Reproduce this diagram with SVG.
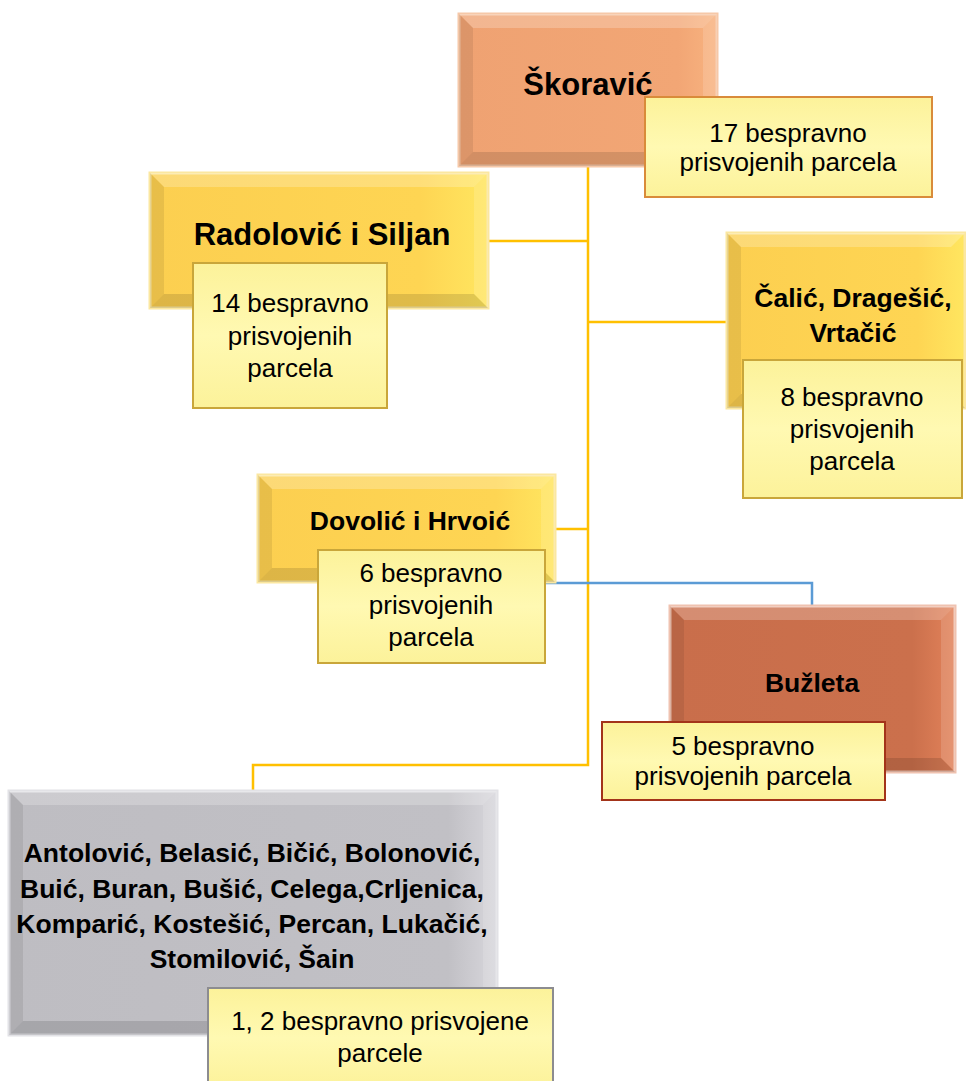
<svg xmlns="http://www.w3.org/2000/svg" width="966" height="1081" viewBox="0 0 966 1081">
<defs>
<style>
.t{font-family:"Liberation Sans",Arial,sans-serif;fill:#000;text-anchor:middle}
.b{font-weight:bold}
.r{font-size:26px}
.lab{fill:url(#gLab);stroke-width:2}
.hi{fill:#fff;opacity:.22}
.hi2{fill:#fff;opacity:.14}
.sh{fill:#000;opacity:.08}
.sh2{fill:#000;opacity:.12}
.cy{fill:none;stroke:#FFC000;stroke-width:2.5}
.cb{fill:none;stroke:#5B9BD5;stroke-width:2.5}
</style>
<linearGradient id="gLab" x1="0" y1="0" x2="0" y2="1">
<stop offset="0" stop-color="#FCF29A"/>
<stop offset="0.5" stop-color="#FFF9B2"/>
<stop offset="1" stop-color="#FCF29A"/>
</linearGradient>
<linearGradient id="gGold" x1="0" y1="0" x2="1" y2="0">
<stop offset="0" stop-color="#FCCF50"/>
<stop offset="0.8" stop-color="#FED553"/>
<stop offset="1" stop-color="#FFE660"/>
</linearGradient>
<linearGradient id="gOr" x1="0" y1="0" x2="1" y2="0">
<stop offset="0" stop-color="#EFA272"/>
<stop offset="0.85" stop-color="#F2A675"/>
<stop offset="1" stop-color="#F8B380"/>
</linearGradient>
<linearGradient id="gRed" x1="0" y1="0" x2="1" y2="0">
<stop offset="0" stop-color="#C96E4B"/>
<stop offset="0.85" stop-color="#CB704C"/>
<stop offset="1" stop-color="#E2825A"/>
</linearGradient>
<linearGradient id="gGrey" x1="0" y1="0" x2="1" y2="0">
<stop offset="0" stop-color="#BEBDC2"/>
<stop offset="0.9" stop-color="#C1C0C5"/>
<stop offset="1" stop-color="#D8D7DC"/>
</linearGradient>
</defs>
<rect width="966" height="1081" fill="#fff"/>

<g id="connectors">
<path class="cy" d="M588,167 V765 H253 V791"/>
<path class="cy" d="M488,241 H588"/>
<path class="cy" d="M588,322 H727"/>
<path class="cy" d="M555,529 H588"/>
<path class="cb" d="M545,583 H812 V606"/>
</g>

<g id="node-skoravic">
<rect x="459" y="14" width="258" height="152" fill="url(#gOr)" stroke="#F6C8A8" stroke-width="3"/>
<polygon class="hi" points="459,14 717,14 703,28 473,28"/>
<polygon class="sh" points="459,14 473,28 473,152 459,166"/>
<polygon class="hi2" points="717,14 717,166 703,152 703,28"/>
<polygon class="sh2" points="459,166 717,166 703,152 473,152"/>
<text class="t b" x="588" y="95" font-size="31">Škoravić</text>
<rect class="lab" x="645" y="97" width="287" height="100" stroke="#D98B3A"/>
<text class="t r" x="788" y="142">17 bespravno</text>
<text class="t r" x="788" y="171">prisvojenih parcela</text>
</g>

<g id="node-radolovic">
<rect x="150" y="173" width="338" height="135" fill="url(#gGold)" stroke="#FBE7A0" stroke-width="3"/>
<polygon class="hi" points="150,173 488,173 474,187 164,187"/>
<polygon class="sh" points="150,173 164,187 164,294 150,308"/>
<polygon class="hi2" points="488,173 488,308 474,294 474,187"/>
<polygon class="sh2" points="150,308 488,308 474,294 164,294"/>
<text class="t b" x="322" y="245" font-size="31">Radolović i Siljan</text>
<rect class="lab" x="193" y="263" width="194" height="145" stroke="#C9A63A"/>
<text class="t r" x="290" y="312">14 bespravno</text>
<text class="t r" x="290" y="345">prisvojenih</text>
<text class="t r" x="290" y="377">parcela</text>
</g>

<g id="node-calic">
<rect x="727" y="233" width="238" height="175" fill="url(#gGold)" stroke="#FBE7A0" stroke-width="3"/>
<polygon class="hi" points="727,233 965,233 951,247 741,247"/>
<polygon class="sh" points="727,233 741,247 741,394 727,408"/>
<polygon class="sh2" points="727,408 965,408 951,394 741,394"/>
<text class="t b" x="853" y="307" font-size="26.5">Čalić, Dragešić,</text>
<text class="t b" x="853" y="342" font-size="26.5">Vrtačić</text>
<rect class="lab" x="743" y="360" width="219" height="138" stroke="#C9A63A"/>
<text class="t r" x="852" y="406">8 bespravno</text>
<text class="t r" x="852" y="438">prisvojenih</text>
<text class="t r" x="852" y="470">parcela</text>
</g>

<g id="node-dovolic">
<rect x="258" y="475" width="297" height="107" fill="url(#gGold)" stroke="#FBE7A0" stroke-width="3"/>
<polygon class="hi" points="258,475 555,475 541,489 272,489"/>
<polygon class="sh" points="258,475 272,489 272,568 258,582"/>
<polygon class="hi2" points="555,475 555,582 541,568 541,489"/>
<polygon class="sh2" points="258,582 555,582 541,568 272,568"/>
<text class="t b" x="410" y="530" font-size="26.5">Dovolić i Hrvoić</text>
<rect class="lab" x="318" y="550" width="227" height="113" stroke="#C9A63A"/>
<text class="t r" x="431" y="582">6 bespravno</text>
<text class="t r" x="431" y="614">prisvojenih</text>
<text class="t r" x="431" y="646">parcela</text>
</g>

<g id="node-buzleta">
<rect x="670" y="606" width="285" height="166" fill="url(#gRed)" stroke="#EFC2B0" stroke-width="3"/>
<polygon class="hi" points="670,606 955,606 941,620 684,620"/>
<polygon class="sh" points="670,606 684,620 684,758 670,772"/>
<polygon class="hi2" points="955,606 955,772 941,758 941,620"/>
<polygon class="sh2" points="670,772 955,772 941,758 684,758"/>
<text class="t b" x="812" y="692" font-size="26.5">Bužleta</text>
<rect class="lab" x="602" y="722" width="283" height="78" stroke="#A3341A"/>
<text class="t r" x="743" y="755">5 bespravno</text>
<text class="t r" x="743" y="785">prisvojenih parcela</text>
</g>

<g id="node-ostali">
<rect x="9" y="791" width="488" height="244" fill="url(#gGrey)" stroke="#E2E2E6" stroke-width="3"/>
<polygon class="hi" points="9,791 497,791 483,805 23,805"/>
<polygon class="sh" points="9,791 23,805 23,1021 9,1035"/>
<polygon class="hi2" points="497,791 497,1035 483,1021 483,805"/>
<polygon class="sh2" points="9,1035 497,1035 483,1021 23,1021"/>
<text class="t b" x="252" y="862" font-size="26.5">Antolović, Belasić, Bičić, Bolonović,</text>
<text class="t b" x="252" y="898" font-size="26.5">Buić, Buran, Bušić, Celega,Crljenica,</text>
<text class="t b" x="252" y="933" font-size="26.5">Komparić, Kostešić, Percan, Lukačić,</text>
<text class="t b" x="252" y="968" font-size="26.5">Stomilović, Šain</text>
<rect class="lab" x="208" y="988" width="345" height="100" stroke="#8C8C90"/>
<text class="t r" x="380" y="1030">1, 2 bespravno prisvojene</text>
<text class="t r" x="380" y="1062">parcele</text>
</g>
</svg>
